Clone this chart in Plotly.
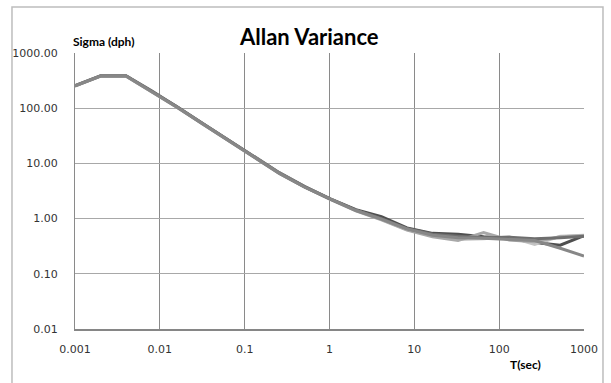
import plotly.graph_objects as go

tau = [0.001, 0.002, 0.004, 0.008, 0.016, 0.032, 0.064, 0.128, 0.256, 0.512,
       1.024, 2.048, 4.096, 8.192, 16.384, 32.768, 65.536, 131.072, 262.144, 524.288, 1000]

series_1 = [255, 385, 385, 205, 106, 53, 26.5, 13.2, 6.8, 3.8,
            2.28, 1.45, 1.08, 0.68, 0.54, 0.52, 0.47, 0.44, 0.37, 0.33, 0.49]
series_2 = [253, 382, 383, 202, 104, 52, 26, 13.0, 6.6, 3.7,
            2.25, 1.40, 0.98, 0.65, 0.50, 0.45, 0.44, 0.42, 0.40, 0.29, 0.21]
series_3 = [252, 380, 380, 200, 103, 51.5, 25.8, 12.9, 6.6, 3.7,
            2.22, 1.38, 0.95, 0.62, 0.47, 0.40, 0.56, 0.41, 0.38, 0.47, 0.49]
series_4 = [256, 386, 386, 206, 105, 52.5, 26.2, 13.1, 6.7, 3.75,
            2.26, 1.42, 1.00, 0.66, 0.52, 0.48, 0.45, 0.46, 0.43, 0.45, 0.48]
series_5 = [254, 383, 384, 203, 104, 52, 26, 13.0, 6.65, 3.72,
            2.24, 1.40, 0.97, 0.63, 0.49, 0.42, 0.43, 0.47, 0.34, 0.48, 0.50]

series = [series_1, series_5, series_3, series_4, series_2]
colors = ["#4f4f4f", "#c4c4c4", "#a8a8a8", "#6e6e6e", "#878787"]

x_ticks = [0.001, 0.01, 0.1, 1, 10, 100, 1000]
x_tick_labels = ["0.001", "0.01", "0.1", "1", "10", "100", "1000"]
y_ticks = [0.01, 0.1, 1, 10, 100, 1000]
y_tick_labels = ["0.01", "0.10", "1.00", "10.00", "100.00", "1000.00"]

fig = go.Figure()
for s, c in zip(series, colors):
    fig.add_trace(go.Scatter(x=tau, y=s, mode="lines",
                             line=dict(color=c, width=3), showlegend=False))

tick_font = dict(family="DejaVu Sans", size=11, color="#333333")

fig.update_layout(
    width=611, height=383,
    margin=dict(l=75, r=27, t=53, b=54),
    paper_bgcolor="white", plot_bgcolor="white",
    showlegend=False,
    xaxis=dict(type="log", range=[-3, 3], tickvals=x_ticks, ticktext=x_tick_labels,
               showgrid=True, gridcolor="#8a8a8a", gridwidth=1,
               showline=True, linecolor="#868686", linewidth=2,
               ticks="", ticklabelstandoff=9, tickfont=tick_font, zeroline=False),
    yaxis=dict(type="log", range=[-2, 3], tickvals=y_ticks, ticktext=y_tick_labels,
               showgrid=True, gridcolor="#a8a8a8", gridwidth=1,
               showline=True, linecolor="#8a8a8a", linewidth=1,
               ticks="", ticklabelstandoff=14, tickfont=tick_font, zeroline=False),
    shapes=[dict(type="rect", xref="paper", yref="paper",
                 x0=-0.1238, x1=1.0373, y0=-0.25, y1=1.1667,
                 line=dict(color="#bdbdbd", width=1.5), fillcolor="rgba(0,0,0,0)",
                 layer="below")],
    annotations=[
        dict(text="<b>Allan Variance</b>", xref="paper", yref="paper",
             x=0.4597, y=1.058, xanchor="center", yanchor="middle", showarrow=False,
             font=dict(family="Lato", size=22, color="#000000")),
        dict(text="<b>Sigma (dph)</b>", xref="paper", yref="paper",
             x=0.056, y=1.04, xanchor="center", yanchor="middle", showarrow=False,
             font=dict(family="Lato", size=12, color="#000000")),
        dict(text="<b>T(sec)</b>", xref="paper", yref="paper",
             x=0.886, y=-0.127, xanchor="center", yanchor="middle", showarrow=False,
             font=dict(family="Lato", size=12, color="#000000")),
    ],
)

fig.write_html("out.html")
